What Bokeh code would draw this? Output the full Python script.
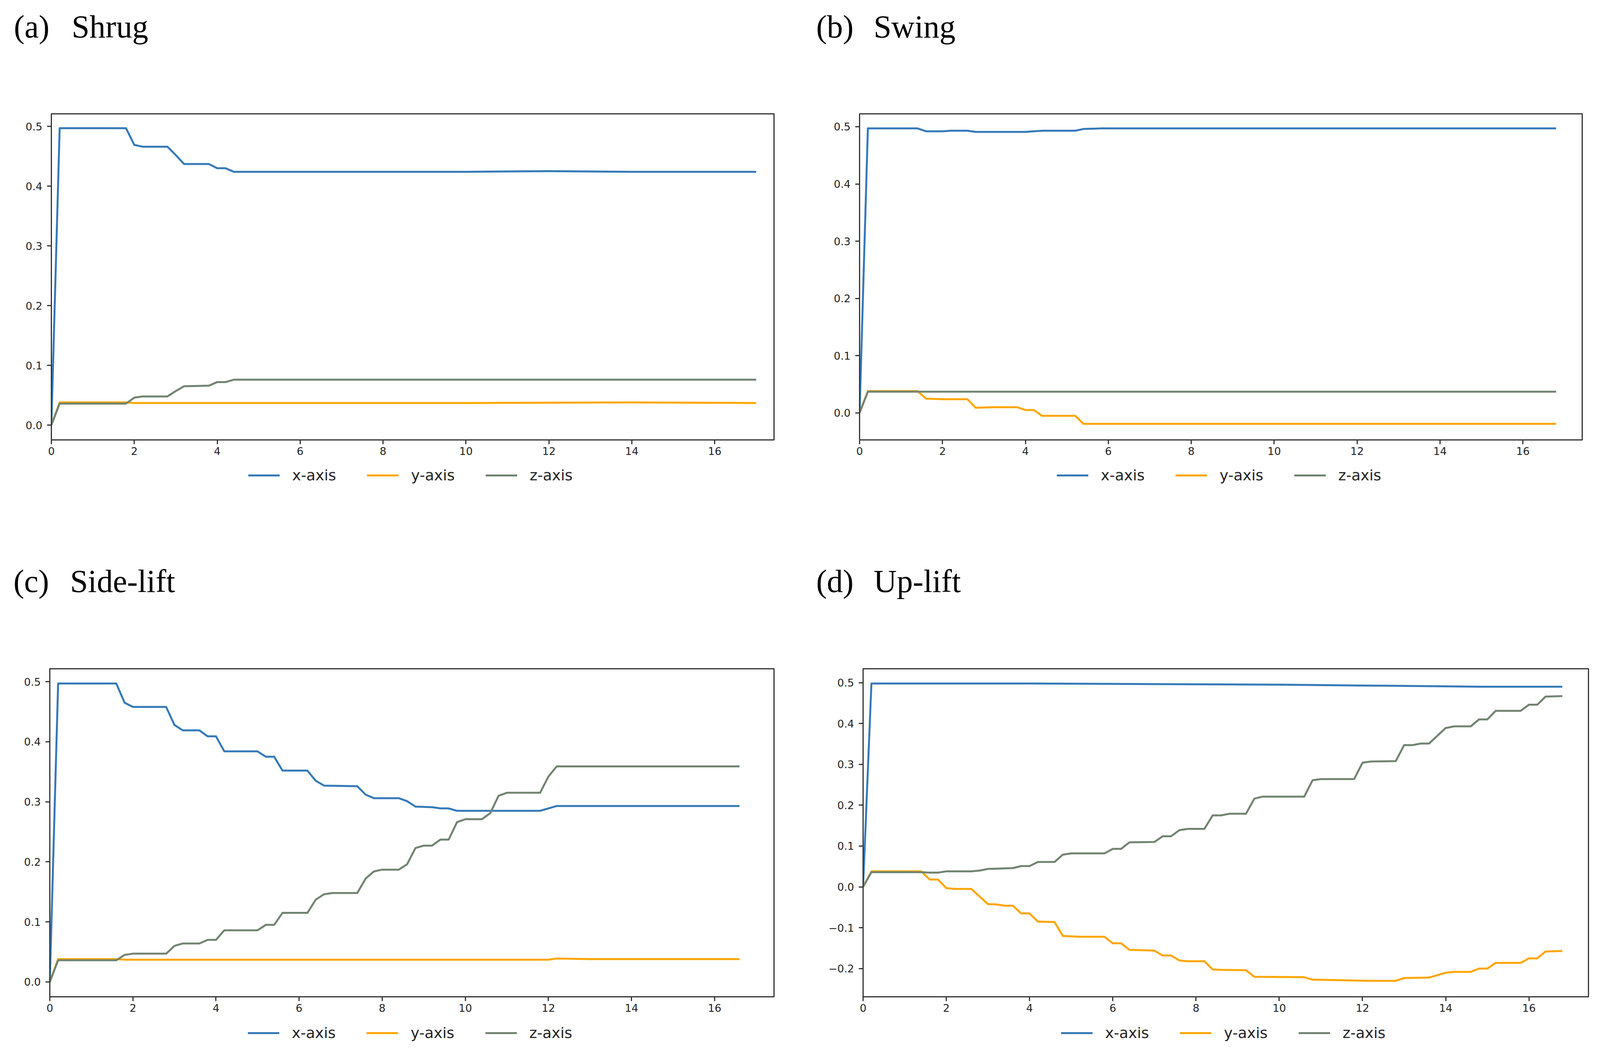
from bokeh.plotting import figure
from bokeh.models import Range1d, FixedTicker, Legend, LegendItem, Label, ColumnDataSource
from bokeh.layouts import row, column
from bokeh.embed import file_html
from bokeh.resources import INLINE

# ---------------- data ----------------
X_TICKS = [0, 2, 4, 6, 8, 10, 12, 14, 16]
Y_TICKS = [-0.2, -0.1, 0.0, 0.1, 0.2, 0.3, 0.4, 0.5]
Y_TICK_LABELS = ["\u22120.2", "\u22120.1", "0.0", "0.1", "0.2", "0.3", "0.4", "0.5"]
SERIES_NAMES = ["x-axis", "y-axis", "z-axis"]
PANEL_LABELS = ["(a)", "(b)", "(c)", "(d)"]
PANEL_NAMES = ["Shrug", "Swing", "Side-lift", "Up-lift"]

# (a) Shrug
shrug_x_t = [0, 0.2, 1.8, 2.0, 2.2, 2.8, 3.0, 3.2, 3.8, 4.0, 4.2, 4.4, 5.4, 6.6, 8.8, 10.0, 12.0, 14.0, 17.0]
shrug_x_v = [0.0, 0.497, 0.497, 0.469, 0.466, 0.466, 0.452, 0.437, 0.437, 0.430, 0.430, 0.424, 0.424, 0.424, 0.424, 0.424, 0.425, 0.424, 0.424]
shrug_y_t = [0, 0.2, 1.8, 2.0, 6.0, 10.0, 14.0, 17.0]
shrug_y_v = [0.0, 0.038, 0.038, 0.037, 0.037, 0.037, 0.038, 0.037]
shrug_z_t = [0, 0.2, 1.8, 2.0, 2.2, 2.8, 3.0, 3.2, 3.8, 4.0, 4.2, 4.4, 8.0, 12.0, 17.0]
shrug_z_v = [0.0, 0.036, 0.036, 0.046, 0.048, 0.048, 0.057, 0.065, 0.066, 0.072, 0.072, 0.076, 0.076, 0.076, 0.076]

# (b) Swing
swing_x_t = [0, 0.2, 1.4, 1.6, 2.0, 2.2, 2.6, 2.8, 4.0, 4.4, 5.2, 5.4, 5.8, 10.0, 16.8]
swing_x_v = [0.0, 0.497, 0.497, 0.492, 0.492, 0.493, 0.493, 0.491, 0.491, 0.493, 0.493, 0.496, 0.497, 0.497, 0.497]
swing_y_t = [0, 0.2, 1.4, 1.6, 2.0, 2.6, 2.8, 3.2, 3.8, 4.0, 4.2, 4.4, 5.2, 5.4, 5.8, 10.4, 16.8]
swing_y_v = [0.0, 0.038, 0.038, 0.025, 0.024, 0.024, 0.009, 0.010, 0.010, 0.005, 0.005, -0.005, -0.005, -0.019, -0.019, -0.019, -0.019]
swing_z_t = [0, 0.2, 6.0, 16.8]
swing_z_v = [0.0, 0.037, 0.037, 0.037]

# (c) Side-lift
side_x_t = [0, 0.2, 1.6, 1.8, 2.0, 2.8, 3.0, 3.2, 3.6, 3.8, 4.0, 4.2, 5.0, 5.2, 5.4, 5.6, 6.2, 6.4,
            6.6, 7.4, 7.6, 7.8, 8.4, 8.6, 8.8, 9.2, 9.4, 9.6, 9.8, 11.8, 12.0, 12.2, 16.6]
side_x_v = [0.0, 0.497, 0.497, 0.465, 0.458, 0.458, 0.428, 0.419, 0.419, 0.409, 0.409, 0.384, 0.384, 0.375, 0.375, 0.352, 0.352, 0.335,
            0.327, 0.326, 0.312, 0.306, 0.306, 0.301, 0.292, 0.291, 0.289, 0.289, 0.285, 0.285, 0.289, 0.293, 0.293]
side_y_t = [0, 0.2, 1.6, 1.8, 6.0, 12.0, 12.2, 13.0, 16.6]
side_y_v = [0.0, 0.038, 0.038, 0.037, 0.037, 0.037, 0.039, 0.038, 0.038]
side_z_t = [0, 0.2, 1.6, 1.8, 2.0, 2.8, 3.0, 3.2, 3.6, 3.8, 4.0, 4.2, 5.0, 5.2, 5.4, 5.6, 6.2, 6.4, 6.6, 6.8,
            7.4, 7.6, 7.8, 8.0, 8.4, 8.6, 8.8, 9.0, 9.2, 9.4, 9.6, 9.8, 10.0, 10.4, 10.6, 10.8, 11.0, 11.8, 12.0, 12.2, 16.6]
side_z_v = [0.0, 0.036, 0.036, 0.045, 0.047, 0.047, 0.060, 0.064, 0.064, 0.070, 0.070, 0.086, 0.086, 0.095, 0.095, 0.115, 0.115, 0.137, 0.146, 0.148,
            0.148, 0.172, 0.184, 0.187, 0.187, 0.196, 0.223, 0.227, 0.227, 0.237, 0.237, 0.266, 0.271, 0.271, 0.281, 0.310, 0.315, 0.315, 0.342, 0.359, 0.359]

# (d) Up-lift
up_x_t = [0, 0.2, 4.0, 6.0, 8.0, 10.0, 12.0, 14.0, 14.8, 16.8]
up_x_v = [0.0, 0.498, 0.498, 0.497, 0.496, 0.495, 0.493, 0.491, 0.490, 0.490]
up_y_t = [0, 0.2, 1.4, 1.6, 1.8, 2.0, 2.2, 2.6, 3.0, 3.2, 3.4, 3.6, 3.8, 4.0, 4.2, 4.6, 4.8, 5.0, 5.2, 5.8, 6.0, 6.2, 6.4, 7.0,
          7.2, 7.4, 7.6, 7.8, 8.2, 8.4, 8.6, 9.2, 9.4, 10.6, 10.8, 12.2, 12.8, 13.0, 13.6, 14.0, 14.2, 14.6, 14.8, 15.0, 15.2,
          15.8, 16.0, 16.2, 16.4, 16.8]
up_y_v = [0.0, 0.038, 0.038, 0.018, 0.018, -0.003, -0.005, -0.005, -0.042, -0.043, -0.046, -0.046, -0.065, -0.065, -0.085, -0.086,
          -0.120, -0.121, -0.122, -0.122, -0.138, -0.138, -0.154, -0.156, -0.168, -0.168, -0.180, -0.182, -0.182, -0.202, -0.203,
          -0.204, -0.220, -0.221, -0.227, -0.230, -0.230, -0.223, -0.222, -0.210, -0.208, -0.208, -0.200, -0.200, -0.186, -0.186,
          -0.175, -0.175, -0.158, -0.157]
up_z_t = [0, 0.2, 1.4, 1.6, 1.8, 2.0, 2.6, 2.8, 3.0, 3.6, 3.8, 4.0, 4.2, 4.6, 4.8, 5.0, 5.8, 6.0, 6.2, 6.4, 7.0, 7.2, 7.4, 7.6,
          7.8, 8.2, 8.4, 8.6, 8.8, 9.2, 9.4, 9.6, 10.6, 10.8, 11.0, 11.8, 12.0, 12.2, 12.8, 13.0, 13.2, 13.4, 13.6, 14.0, 14.2,
          14.6, 14.8, 15.0, 15.2, 15.8, 16.0, 16.2, 16.4, 16.8]
up_z_v = [0.0, 0.036, 0.036, 0.035, 0.035, 0.038, 0.038, 0.040, 0.044, 0.046, 0.051, 0.051, 0.061, 0.061, 0.079, 0.082, 0.082,
          0.093, 0.093, 0.109, 0.110, 0.124, 0.124, 0.139, 0.142, 0.142, 0.175, 0.175, 0.179, 0.179, 0.216, 0.221, 0.221, 0.261,
          0.264, 0.264, 0.304, 0.307, 0.308, 0.347, 0.347, 0.351, 0.351, 0.389, 0.393, 0.393, 0.410, 0.410, 0.431, 0.431, 0.446,
          0.446, 0.466, 0.467]

X_MAX = 17.43
Y_LIMITS = [(-0.0248, 0.521), (-0.0472, 0.5225), (-0.0248, 0.5216), (-0.269, 0.534)]

# ---------------- styles ----------------
COLORS = ["#3579b8", "#ffa500", "#718471"]
SPINE = "#333333"
TXT = "#222222"
LW = 5
PAGE_W = 4090
LEG_H = 44

PANEL_SERIES = [
    [(shrug_x_t, shrug_x_v), (shrug_y_t, shrug_y_v), (shrug_z_t, shrug_z_v)],
    [(swing_x_t, swing_x_v), (swing_y_t, swing_y_v), (swing_z_t, swing_z_v)],
    [(side_x_t, side_x_v), (side_y_t, side_y_v), (side_z_t, side_z_v)],
    [(up_x_t, up_x_v), (up_y_t, up_y_v), (up_z_t, up_z_v)],
]
SOURCES = [[ColumnDataSource(data=dict(t=t, v=v)) for (t, v) in s] for s in PANEL_SERIES]


def strip(height, captions, legends):
    """A blank strip carrying panel captions and legends (no frame, no axes)."""
    t = figure(width=PAGE_W, height=height, min_border=0, x_range=Range1d(0, PAGE_W),
               y_range=Range1d(0, height), output_backend="svg", toolbar_location=None, tools="")
    t.extra_y_ranges = {"off": Range1d(100, 101)}
    t.axis.visible = False
    t.grid.visible = False
    t.outline_line_color = None
    t.background_fill_color = "white"
    t.border_fill_color = "white"
    for txt, x, base_from_top in captions:
        t.add_layout(Label(x=x, y=height - base_from_top, x_units="screen", y_units="screen", text=txt,
                           text_font="Liberation Serif", text_font_size="82px",
                           text_color="black", text_baseline="alphabetic", text_align="left"))
    for idx, x_left, center_from_top in legends:
        items = []
        for k, src in enumerate(SOURCES[idx]):
            # legend swatch renderers share the panel's data but sit outside this strip's view
            r = t.line("t", "v", source=src, line_color=COLORS[k], line_width=LW, y_range_name="off")
            items.append(LegendItem(label=SERIES_NAMES[k], renderers=[r]))
        top = center_from_top - LEG_H / 2
        t.add_layout(Legend(items=items, orientation="horizontal",
                            location=(x_left, height - top - LEG_H),
                            label_text_font="DejaVu Sans", label_text_font_size="38px",
                            label_text_color=TXT, glyph_width=81, glyph_height=LEG_H,
                            label_standoff=32, spacing=79, padding=0, margin=0,
                            border_line_alpha=0, background_fill_alpha=0, label_height=LEG_H))
    return t


def make_panel(idx, fw, fh, bl, br, bt, bb):
    y_lo, y_hi = Y_LIMITS[idx]
    p = figure(frame_width=fw, frame_height=fh, min_border_left=bl, min_border_right=br,
               min_border_top=bt, min_border_bottom=bb,
               x_range=Range1d(0, X_MAX), y_range=Range1d(y_lo, y_hi),
               output_backend="svg", toolbar_location=None, tools="")
    p.grid.visible = False
    p.outline_line_color = SPINE
    p.outline_line_width = 3
    p.background_fill_color = "white"
    p.border_fill_color = "white"

    for ax in (p.xaxis[0], p.yaxis[0]):
        ax.axis_line_color = SPINE
        ax.axis_line_width = 3
        ax.major_tick_line_color = SPINE
        ax.major_tick_line_width = 3
        ax.major_tick_out = 11
        ax.major_tick_in = 0
        ax.minor_tick_line_alpha = 0
        ax.major_label_text_font = "DejaVu Sans"
        ax.major_label_text_font_size = "27px"
        ax.major_label_text_color = TXT
    p.xaxis[0].ticker = FixedTicker(ticks=X_TICKS)
    p.xaxis[0].major_label_standoff = 7
    p.yaxis[0].ticker = FixedTicker(ticks=Y_TICKS)
    p.yaxis[0].major_label_standoff = 12
    p.yaxis[0].major_label_overrides = {t: s for t, s in zip(Y_TICKS, Y_TICK_LABELS)}

    for k, src in enumerate(SOURCES[idx]):
        p.line("t", "v", source=src, line_color=COLORS[k], line_width=LW, line_join="round")
    return p


# vertical plan (px from page top):
# strip1 0-200 | row1 200-1186 (frames 291-1126) | strip2 1186-1652 | row2 1652-2612 (frames 1712-2552) | strip3 2612-2697
s1 = strip(200, [(PANEL_LABELS[0], 35, 68), (PANEL_NAMES[0], 183, 68),
                 (PANEL_LABELS[1], 2089, 68), (PANEL_NAMES[1], 2236, 68)], [])
pa = make_panel(0, 1850, 835, 131, 77, 91, 60)
pb = make_panel(1, 1850, 835, 142, 40, 91, 60)
s2 = strip(466, [(PANEL_LABELS[2], 34, 302), (PANEL_NAMES[2], 179, 302),
                 (PANEL_LABELS[3], 2089, 302), (PANEL_NAMES[3], 2236, 302)],
           [(0, 635, 31), (1, 2705, 31)])
pc = make_panel(2, 1854, 840, 127, 77, 60, 60)
pd = make_panel(3, 1857, 840, 151, 24, 60, 60)
s3 = strip(85, [], [(2, 634, 33), (3, 2716, 33)])

layout = column(s1, row(pa, pb), s2, row(pc, pd), s3)
open("out.html", "w").write(file_html(layout, INLINE))
